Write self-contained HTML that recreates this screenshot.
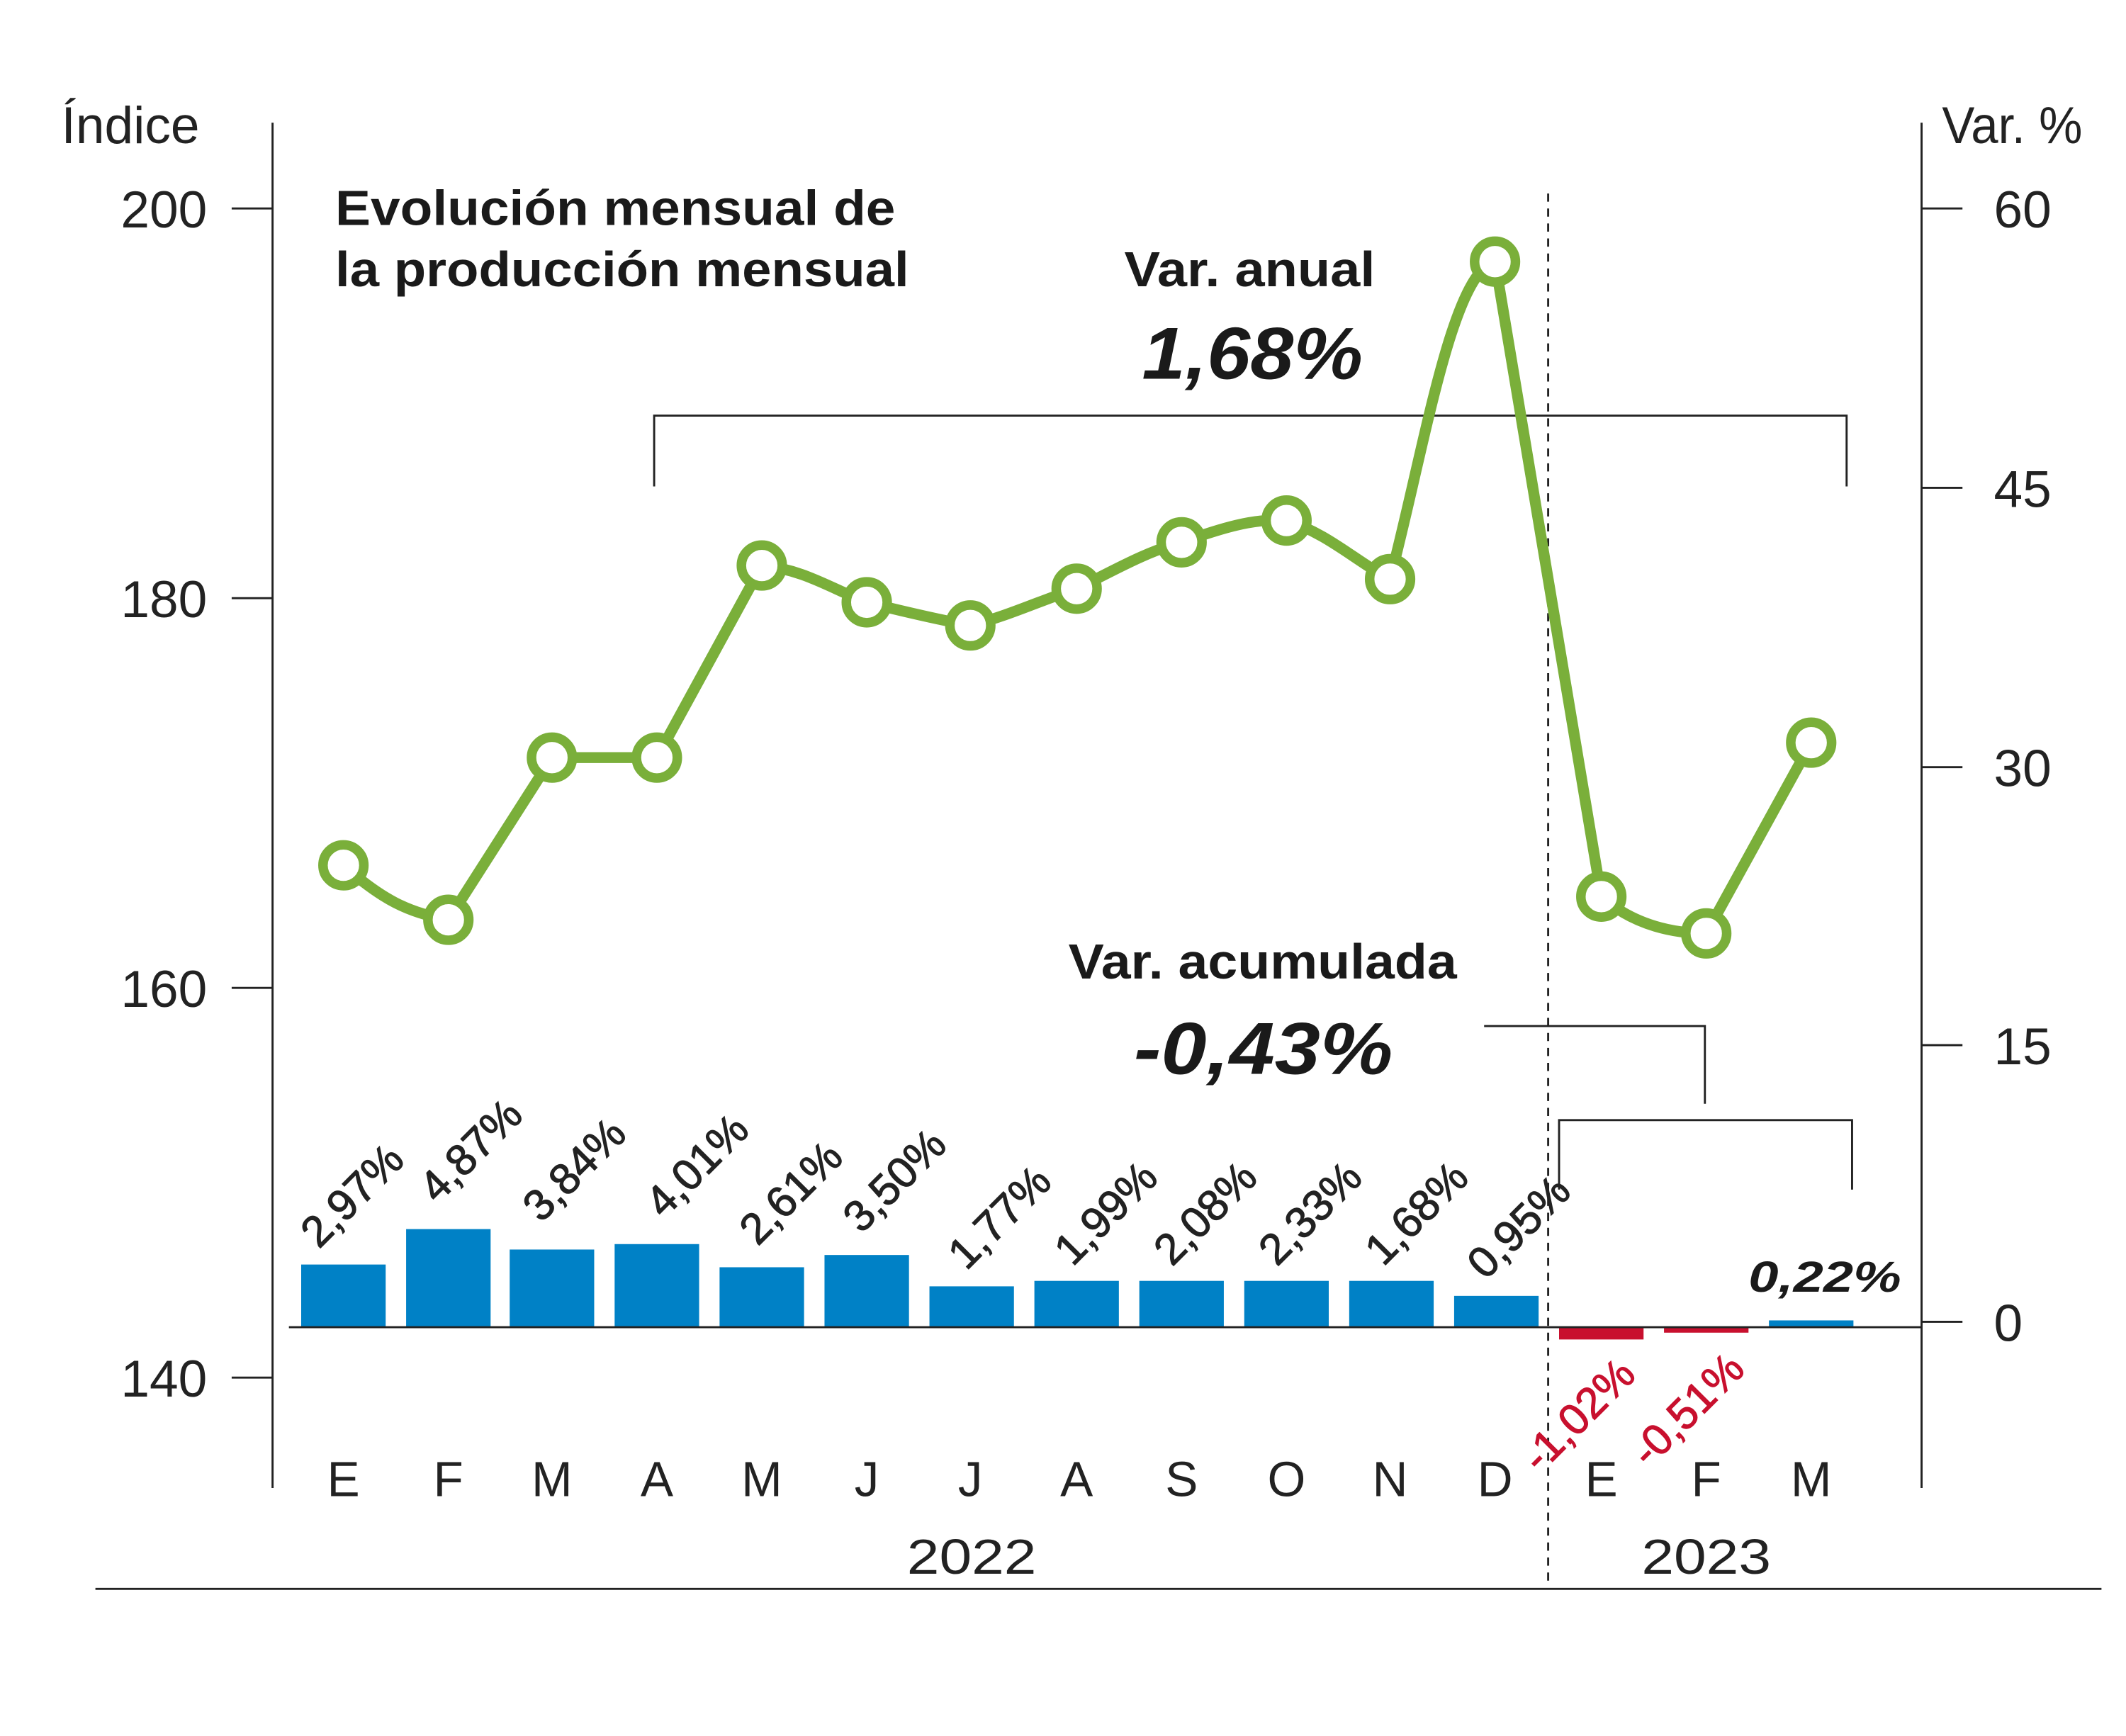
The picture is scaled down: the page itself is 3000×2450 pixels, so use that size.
<!DOCTYPE html>
<html><head><meta charset="utf-8"><style>html,body{margin:0;padding:0;background:#fff}svg{display:block}</style></head><body>
<svg width="3000" height="2450" viewBox="0 0 1560 1274" preserveAspectRatio="none" xmlns="http://www.w3.org/2000/svg" font-family="Liberation Sans, DejaVu Sans, sans-serif">
<rect width="1560" height="1274" fill="#fff"/>
<g stroke="#222" stroke-width="1.5" fill="none">
<line x1="200" y1="90" x2="200" y2="1092"/>
<line x1="1410" y1="90" x2="1410" y2="1092"/>
<line x1="170" y1="153" x2="200" y2="153"/><line x1="170" y1="439" x2="200" y2="439"/>
<line x1="170" y1="725" x2="200" y2="725"/><line x1="170" y1="1011" x2="200" y2="1011"/>
<line x1="1410" y1="153" x2="1440" y2="153"/><line x1="1410" y1="358" x2="1440" y2="358"/>
<line x1="1410" y1="563" x2="1440" y2="563"/><line x1="1410" y1="767" x2="1440" y2="767"/>
<line x1="1410" y1="970" x2="1440" y2="970"/>
<line x1="70" y1="1166" x2="1542" y2="1166"/>
<line x1="1136" y1="142" x2="1136" y2="1160" stroke-dasharray="6,5"/>
<polyline points="480,357 480,305 1355,305 1355,357"/>
<polyline points="1089,753 1251,753 1251,810"/>
<polyline points="1144,873 1144,822 1359,822 1359,873"/>
</g>
<g font-size="38" fill="#222">
<text x="45" y="105">Índice</text>
<text x="1425" y="105" textLength="103" lengthAdjust="spacingAndGlyphs">Var. %</text>
<g text-anchor="end"><text x="152" y="167">200</text><text x="152" y="453">180</text><text x="152" y="739">160</text><text x="152" y="1025">140</text></g>
<text x="1463" y="167">60</text><text x="1463" y="372">45</text><text x="1463" y="577">30</text><text x="1463" y="781">15</text><text x="1463" y="984">0</text>
<g text-anchor="middle" font-size="36">
<text x="252" y="1098">E</text><text x="329" y="1098">F</text><text x="405" y="1098">M</text><text x="482" y="1098">A</text><text x="559" y="1098">M</text><text x="636" y="1098">J</text><text x="712" y="1098">J</text><text x="790" y="1098">A</text><text x="867" y="1098">S</text><text x="944" y="1098">O</text><text x="1020" y="1098">N</text><text x="1097" y="1098">D</text><text x="1175" y="1098">E</text><text x="1252" y="1098">F</text><text x="1329" y="1098">M</text>
<text x="713" y="1155" textLength="95" lengthAdjust="spacingAndGlyphs">2022</text><text x="1252" y="1155" textLength="95" lengthAdjust="spacingAndGlyphs">2023</text>
</g>
</g>
<g font-weight="bold" fill="#1a1a1a" font-size="36">
<text x="246" y="165" textLength="411" lengthAdjust="spacingAndGlyphs">Evolución mensual de</text>
<text x="246" y="210" textLength="421" lengthAdjust="spacingAndGlyphs">la producción mensual</text>
<text x="825" y="210" textLength="184" lengthAdjust="spacingAndGlyphs">Var. anual</text>
<text x="784" y="718" textLength="285" lengthAdjust="spacingAndGlyphs">Var. acumulada</text>
<text x="838" y="278" font-size="54" font-style="italic" textLength="162" lengthAdjust="spacingAndGlyphs">1,68%</text>
<text x="832" y="788" font-size="54" font-style="italic" textLength="190" lengthAdjust="spacingAndGlyphs">-0,43%</text>
<text x="1283" y="948" font-size="32" font-style="italic" textLength="112" lengthAdjust="spacingAndGlyphs">0,22%</text>
</g>
<g fill="#0081c6">
<rect x="221" y="928" width="62" height="46"/><rect x="298" y="902" width="62" height="72"/><rect x="374" y="917" width="62" height="57"/><rect x="451" y="913" width="62" height="61"/><rect x="528" y="930" width="62" height="44"/><rect x="605" y="921" width="62" height="53"/><rect x="682" y="944" width="62" height="30"/><rect x="759" y="940" width="62" height="34"/><rect x="836" y="940" width="62" height="34"/><rect x="913" y="940" width="62" height="34"/><rect x="990" y="940" width="62" height="34"/><rect x="1067" y="951" width="62" height="23"/><rect x="1298" y="969" width="62" height="5"/>
</g>
<g fill="#c8102e"><rect x="1144" y="974" width="62" height="9"/><rect x="1221" y="974" width="62" height="4"/></g>
<line x1="212" y1="974" x2="1410" y2="974" stroke="#222" stroke-width="1.5"/>
<g font-size="32" fill="#222" stroke="#222" stroke-width="0.6">
<text transform="translate(234,917) rotate(-45)">2,97%</text>
<text transform="translate(321,884) rotate(-45)">4,87%</text>
<text transform="translate(397,898) rotate(-45)">3,84%</text>
<text transform="translate(487,895) rotate(-45)">4,01%</text>
<text transform="translate(556,915) rotate(-45)">2,61%</text>
<text transform="translate(632,906) rotate(-45)">3,50%</text>
<text transform="translate(709,933) rotate(-45)">1,77%</text>
<text transform="translate(787,930) rotate(-45)">1,99%</text>
<text transform="translate(860,930) rotate(-45)">2,08%</text>
<text transform="translate(937,930) rotate(-45)">2,33%</text>
<text transform="translate(1015,930) rotate(-45)">1,68%</text>
<text transform="translate(1090,940) rotate(-45)">0,95%</text>
<g fill="#c8102e" stroke="#c8102e"><text transform="translate(1130,1082) rotate(-45)">-1,02%</text><text transform="translate(1210,1078) rotate(-45)">-0,51%</text></g>
</g>
<path d="M252,635 C280,660 300,670 329,675 L405,556 L482,556 L559,415 C590,418 610,432 636,442 C660,448 690,455 712,459 C740,452 765,440 790,432 C815,420 840,405 867,398 C895,388 920,380 944,382 C975,392 995,412 1020,425 C1045,330 1065,200 1097,192 L1175,658 C1200,680 1230,685 1252,685 L1329,545" fill="none" stroke="#7aaf3a" stroke-width="8" stroke-linejoin="round"/>
<g fill="#fff" stroke="#7aaf3a" stroke-width="7">
<circle cx="252" cy="635" r="15"/><circle cx="329" cy="675" r="15"/><circle cx="405" cy="556" r="15"/><circle cx="482" cy="556" r="15"/><circle cx="559" cy="415" r="15"/><circle cx="636" cy="442" r="15"/><circle cx="712" cy="459" r="15"/><circle cx="790" cy="432" r="15"/><circle cx="867" cy="398" r="15"/><circle cx="944" cy="382" r="15"/><circle cx="1020" cy="425" r="15"/><circle cx="1097" cy="192" r="15"/><circle cx="1175" cy="658" r="15"/><circle cx="1252" cy="685" r="15"/><circle cx="1329" cy="545" r="15"/>
</g>
</svg>
</body></html>
